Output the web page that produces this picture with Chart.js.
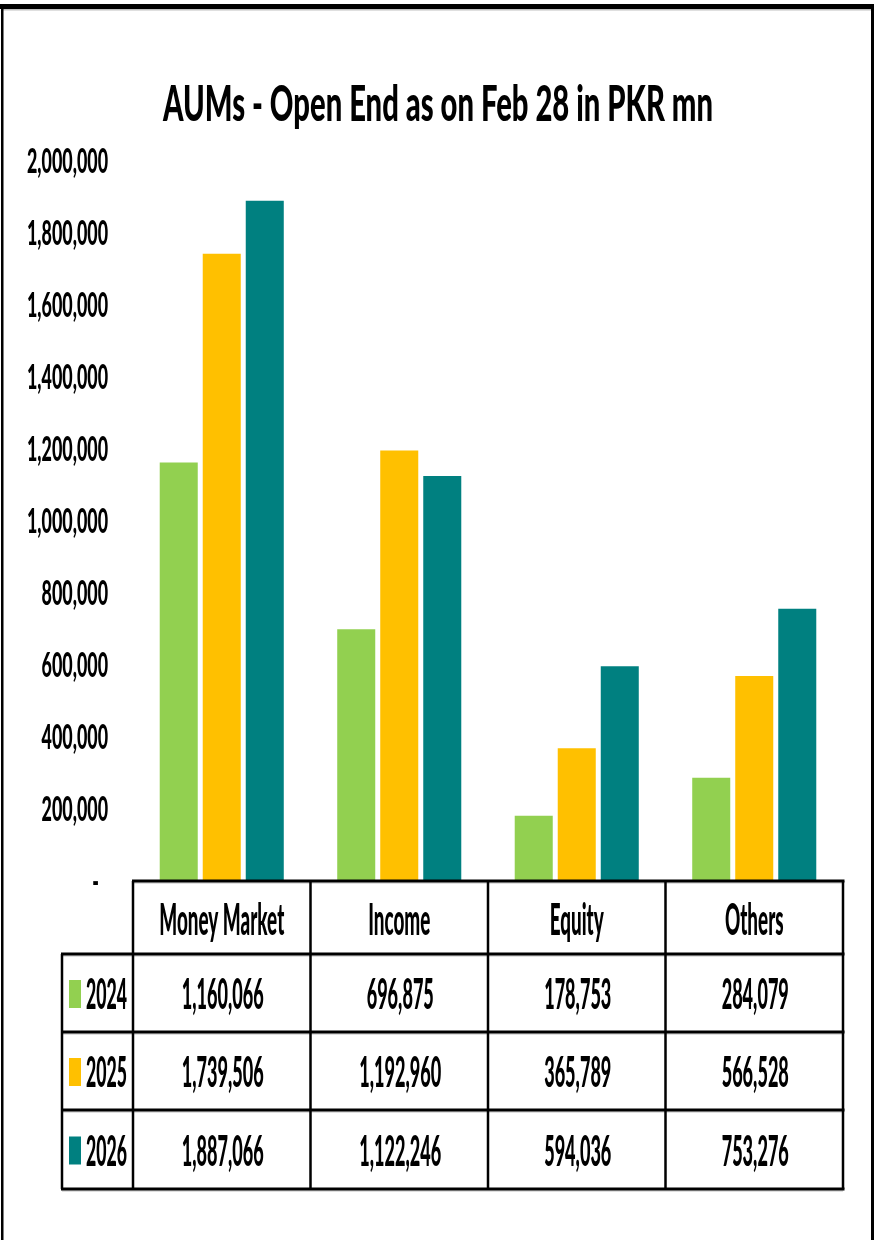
<!DOCTYPE html>
<html>
<head>
<meta charset="utf-8">
<script src="https://cdn.jsdelivr.net/npm/chart.js@4/dist/chart.umd.min.js"></script>
<style>
  html, body { margin: 0; padding: 0; background: #ffffff; }
  #wrap { width: 878px; height: 1240px; }
  canvas { display: block; }
</style>
</head>
<body>
<div id="wrap"><canvas id="c" width="878" height="1240"></canvas></div>
<script>
// ---- data ----
const chartTitle = 'AUMs - Open End as on Feb 28 in PKR mn';
const categories = ['Money Market', 'Income', 'Equity', 'Others'];
const years = ['2024', '2025', '2026'];
const aum2024 = [1160066, 696875, 178753, 284079];
const aum2025 = [1739506, 1192960, 365789, 566528];
const aum2026 = [1887066, 1122246, 594036, 753276];
const yMin = 0;
const yMax = 2000000;
const yStep = 200000;

// ---- styles ----
const seriesColors = ['#92D050', '#FFC000', '#008080'];
const FONT = 'Lato, "Open Sans", "Noto Sans", sans-serif';
const WEIGHT = '900';

function fmt(v) {
  return v === 0 ? '-' : v.toLocaleString('en-US');
}

// draw horizontally condensed text: sx derived from a sample string and target width
function condText(ctx, text, x, y, size, sample, targetW, align) {
  ctx.save();
  ctx.font = WEIGHT + ' ' + size + 'px ' + FONT;
  const w = ctx.measureText(sample).width;
  const sx = targetW / w;
  ctx.translate(x, y);
  ctx.scale(sx, 1);
  ctx.textAlign = align;
  ctx.textBaseline = 'alphabetic';
  ctx.fillStyle = '#000000';
  ctx.fillText(text, 0, 0);
  ctx.restore();
}

const decorPlugin = {
  id: 'decor',
  beforeDraw(chart) {
    const ctx = chart.ctx;
    ctx.save();
    ctx.fillStyle = '#ffffff';
    ctx.fillRect(0, 0, chart.width, chart.height);
    ctx.restore();
  },
  afterDraw(chart) {
    const ctx = chart.ctx;
    const xs = chart.scales.x;
    const ys = chart.scales.y;
    const ca = chart.chartArea;

    // frame
    ctx.save();
    ctx.fillStyle = '#000000';
    ctx.fillRect(0, 4, 874, 5);
    ctx.fillStyle = 'rgba(0,0,0,0.25)';
    ctx.fillRect(3, 9, 868, 1.5);
    ctx.fillStyle = '#000000';
    ctx.fillRect(1, 4, 2.5, chart.height - 4);
    ctx.fillRect(871, 4, 3, chart.height - 4);
    ctx.restore();

    // title
    condText(ctx, chartTitle, 438, 121, 49, chartTitle, 550, 'center');

    // y tick labels from the scale
    ys.ticks.forEach(t => {
      const py = ys.getPixelForValue(t.value);
      if (t.value === 0) {
        condText(ctx, '-', 99, py + 13, 35, '1,800,000', 81, 'right');
      } else {
        condText(ctx, fmt(t.value), 108, py + 12.5, 35, '1,800,000', 81, 'right');
      }
    });

    // ---- data table ----
    const colW = ca.width / categories.length;
    const edges = [];
    for (let i = 0; i <= categories.length; i++) edges.push(ca.left + i * colW);
    const legendLeft = 62;
    const headTop = 881;
    const rowLines = [954, 1032, 1110, 1189];

    ctx.save();
    ctx.strokeStyle = '#000000';
    ctx.lineWidth = 3;
    ctx.beginPath();
    ctx.moveTo(edges[0] - 1, headTop); ctx.lineTo(edges[edges.length - 1] + 1.5, headTop);
    rowLines.forEach(yy => { ctx.moveTo(legendLeft - 1, yy); ctx.lineTo(edges[edges.length - 1] + 1.5, yy); });
    ctx.stroke();
    ctx.strokeStyle = 'rgba(0,0,0,0.25)';
    ctx.lineWidth = 1;
    ctx.beginPath();
    ctx.moveTo(edges[0], headTop + 2); ctx.lineTo(edges[edges.length - 1], headTop + 2);
    rowLines.forEach(yy => { ctx.moveTo(legendLeft, yy + 2); ctx.lineTo(edges[edges.length - 1], yy + 2); });
    ctx.stroke();
    ctx.strokeStyle = '#000000';
    ctx.lineWidth = 2.5;
    ctx.beginPath();
    ctx.moveTo(legendLeft, rowLines[0]); ctx.lineTo(legendLeft, rowLines[rowLines.length - 1]);
    edges.forEach(ex => { ctx.moveTo(ex, headTop); ctx.lineTo(ex, rowLines[rowLines.length - 1]); });
    ctx.stroke();
    ctx.restore();

    // header labels
    categories.forEach((c, i) => {
      const cx = xs.getPixelForTick(i);
      condText(ctx, c, cx, 935, 44, 'Money Market', 125, 'center');
    });

    // rows
    chart.data.datasets.forEach((ds, r) => {
      const top = rowLines[r];
      const bottom = rowLines[r + 1];
      const mid = (top + bottom) / 2;
      ctx.save();
      ctx.fillStyle = ds.backgroundColor;
      ctx.fillRect(69, mid - 13, 12, 28);
      ctx.restore();
      condText(ctx, ds.label, 86, mid + 16, 42, '2024', 41, 'left');
      ds.data.forEach((v, i) => {
        const cx = xs.getPixelForTick(i);
        condText(ctx, fmt(v), cx + 1, mid + 16, 42, '1,160,066', 82, 'center');
      });
    });
  }
};

const chart = new Chart(document.getElementById('c'), {
  type: 'bar',
  data: {
    labels: categories,
    datasets: [
      { label: years[0], data: aum2024, backgroundColor: seriesColors[0] },
      { label: years[1], data: aum2025, backgroundColor: seriesColors[1] },
      { label: years[2], data: aum2026, backgroundColor: seriesColors[2] }
    ]
  },
  options: {
    responsive: false,
    animation: false,
    devicePixelRatio: 1,
    layout: { padding: { left: 133, right: 35, top: 160, bottom: 360 } },
    datasets: {
      bar: { categoryPercentage: 0.727, barPercentage: 0.884, borderWidth: 0 }
    },
    plugins: {
      legend: { display: false },
      title: { display: false },
      tooltip: { enabled: false }
    },
    scales: {
      x: {
        display: true,
        grid: { display: false },
        border: { display: false },
        ticks: { display: false },
        afterFit(s) { s.height = 0; }
      },
      y: {
        display: true,
        min: yMin,
        max: yMax,
        grid: { display: false },
        border: { display: false },
        ticks: { display: false, stepSize: yStep },
        afterFit(s) { s.width = 0; }
      }
    }
  },
  plugins: [decorPlugin]
});
</script>
</body>
</html>
